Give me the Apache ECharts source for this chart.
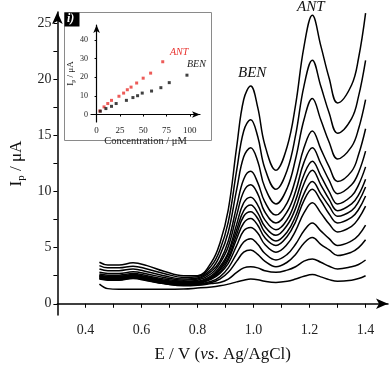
<!DOCTYPE html>
<html>
<head>
<meta charset="utf-8">
<script src="https://cdn.jsdelivr.net/npm/echarts@6/dist/echarts.min.js"></script>
<style>
  html, body { margin: 0; padding: 0; background: #fff; }
  #chart { width: 392px; height: 368px; }
</style>
</head>
<body>
<div id="chart"></div>
<script>
// potential axis (V vs Ag/AgCl), shared by every voltammogram
const potential = [0.45, 0.48, 0.52, 0.57, 0.62, 0.68, 0.75, 0.80, 0.85, 0.88, 0.91, 0.94, 0.965, 0.99,
  1.015, 1.04, 1.08, 1.12, 1.15, 1.18, 1.21, 1.24, 1.27, 1.30, 1.35, 1.375, 1.40];

// current (uA), lowest concentration first
const curve0 = [1.75, 1.35, 1.3, 1.3, 1.3, 1.3, 1.32, 1.4, 1.5, 1.6, 1.75, 1.95, 2.1, 2.2, 2.15, 2.0, 1.9, 2.0, 2.2, 2.45, 2.6, 2.4, 2.15, 2.0, 2.1, 2.25, 2.5];
const curve1 = [2.2, 2.1, 2.1, 2.25, 2.05, 1.8, 1.6, 1.65, 1.8, 1.9, 2.2, 2.8, 3.2, 3.3, 3.2, 2.95, 2.8, 3.0, 3.3, 3.8, 4.0, 3.7, 3.35, 3.1, 3.3, 3.5, 3.9];
const curve2 = [2.25, 2.15, 2.15, 2.3, 2.1, 1.8, 1.65, 1.7, 1.9, 2.2, 2.8, 3.8, 4.6, 4.8, 4.4, 3.8, 3.3, 3.7, 4.4, 5.4, 5.9, 5.3, 4.8, 4.3, 4.6, 5.0, 5.7];
const curve3 = [2.3, 2.2, 2.2, 2.35, 2.15, 1.85, 1.7, 1.75, 2.0, 2.4, 3.2, 4.5, 5.5, 5.8, 5.3, 4.5, 3.9, 4.4, 5.3, 6.5, 7.2, 6.5, 5.8, 5.2, 5.6, 6.1, 7.0];
const curve4 = [2.35, 2.25, 2.25, 2.4, 2.2, 1.9, 1.75, 1.8, 2.2, 2.7, 3.6, 5.2, 6.5, 6.8, 6.3, 5.3, 4.6, 5.3, 6.5, 8.1, 9.0, 8.1, 7.1, 6.4, 6.9, 7.6, 8.7];
const curve5 = [2.4, 2.3, 2.3, 2.45, 2.25, 1.95, 1.8, 1.85, 2.3, 2.8, 3.9, 5.8, 7.2, 7.6, 7.0, 5.9, 5.2, 6.0, 7.3, 9.2, 10.2, 9.2, 8.0, 7.2, 7.7, 8.4, 9.6];
const curve6 = [2.45, 2.35, 2.35, 2.5, 2.3, 2.0, 1.85, 1.9, 2.3, 3.0, 4.1, 6.2, 7.8, 8.2, 7.6, 6.4, 5.6, 6.4, 7.8, 9.8, 10.9, 9.8, 8.7, 7.8, 8.3, 9.1, 10.4];
const curve7 = [2.5, 2.4, 2.4, 2.55, 2.35, 2.05, 1.9, 1.95, 2.4, 3.1, 4.4, 6.6, 8.3, 8.8, 8.1, 6.9, 6.1, 7.0, 8.5, 10.7, 11.9, 10.6, 9.3, 8.3, 8.9, 9.7, 11.1];
const curve8 = [2.55, 2.45, 2.45, 2.6, 2.4, 2.1, 1.95, 2.0, 2.5, 3.3, 4.6, 7.1, 9.0, 9.5, 8.8, 7.5, 6.6, 7.5, 9.2, 11.5, 12.7, 11.4, 10.0, 8.9, 9.6, 10.6, 12.2];
const curve9 = [2.65, 2.55, 2.55, 2.7, 2.5, 2.2, 2.0, 2.1, 2.7, 3.6, 5.1, 7.9, 10.0, 10.6, 9.8, 8.2, 7.2, 8.2, 10.0, 12.6, 13.9, 12.5, 11.0, 9.8, 10.6, 11.7, 13.6];
const curve10 = [2.8, 2.7, 2.7, 2.85, 2.65, 2.35, 2.1, 2.2, 2.9, 3.8, 5.6, 8.7, 11.1, 11.8, 10.8, 9.1, 7.9, 9.0, 11.1, 13.9, 15.4, 13.8, 12.2, 10.9, 11.8, 13.3, 15.6];
const curve11 = [3.1, 2.95, 2.95, 3.1, 2.85, 2.5, 2.2, 2.3, 3.1, 4.3, 6.4, 10.2, 13.1, 13.9, 12.7, 10.4, 8.9, 10.3, 12.9, 16.4, 18.3, 16.4, 14.4, 12.9, 14.0, 15.6, 18.2];
const curve12 = [3.4, 3.2, 3.2, 3.35, 3.1, 2.7, 2.35, 2.4, 3.4, 4.8, 7.3, 11.9, 15.4, 16.4, 14.9, 12.1, 10.2, 11.9, 15.0, 19.4, 21.7, 19.4, 17.0, 15.2, 16.5, 18.5, 21.7];
const curve13 = [3.7, 3.45, 3.45, 3.65, 3.4, 2.9, 2.5, 2.5, 3.7, 5.4, 8.4, 14.0, 18.2, 19.4, 17.5, 14.2, 11.9, 14.0, 17.7, 22.9, 25.7, 23.0, 20.1, 17.9, 19.5, 21.9, 25.9];
const curves = [curve0, curve1, curve2, curve3, curve4, curve5, curve6, curve7,
  curve8, curve9, curve10, curve11, curve12, curve13];

// inset: peak current vs concentration
const antConc = [3.5, 8, 12, 16, 24, 29, 33, 37, 43, 50, 58, 71];
const antCurrent = [1.9, 4.1, 5.9, 7.6, 9.8, 11.5, 13.3, 14.7, 16.9, 19.5, 22.2, 28.3];
const benConc = [4, 10, 16, 21, 32, 39, 44, 49, 59, 69, 78, 97];
const benCurrent = [1.8, 3.2, 4.4, 5.9, 7.6, 9.1, 10.1, 11.5, 12.6, 14.4, 17.1, 21.1];

// tick values
const mainXTicks = [0.4, 0.5, 0.6, 0.7, 0.8, 0.9, 1.0, 1.1, 1.2, 1.3, 1.4];
const mainXLabels = [0.4, 0.6, 0.8, 1.0, 1.2, 1.4];
const mainYTicks = [0, 2.5, 5, 7.5, 10, 12.5, 15, 17.5, 20, 22.5, 25];
const mainYLabels = [0, 5, 10, 15, 20, 25];
const insetXTicks = [0, 25, 50, 75, 100];
const insetYTicks = [0, 10, 20, 30, 40];

const serif = '"Liberation Serif", "DejaVu Serif", serif';

const chart = echarts.init(document.getElementById('chart'));

const mainSeries = curves.map((c, k) => ({
  name: 'c' + k,
  type: 'line',
  xAxisIndex: 0,
  yAxisIndex: 0,
  data: potential.map((e, i) => [e, c[i]]),
  showSymbol: false,
  smooth: 0.4,
  lineStyle: { color: '#000', width: 1.5 },
  z: 3,
  silent: true,
}));

const option = {
  animation: false,
  backgroundColor: '#fff',
  grid: [
    { left: 45, right: 4, top: 12, bottom: 42 },
    { left: 91, right: 192, top: 25, bottom: 246 },
  ],
  xAxis: [
    {
      type: 'value',
      gridIndex: 0,
      min: 0.3,
      max: 1.48,
      splitLine: { show: false },
      axisLine: { show: true, symbol: ['none', 'arrow'], symbolSize: [8, 12], lineStyle: { color: '#000', width: 1.5 } },
      axisTick: { show: true, length: 4, customValues: mainXTicks, lineStyle: { color: '#000' } },
      axisLabel: {
        customValues: mainXLabels,
        formatter: (v) => v.toFixed(1),
        fontFamily: serif, fontSize: 14, color: '#222', margin: 8,
      },
      name: '{a|E / V (}{i|vs}{a|. Ag/AgCl)}',
      nameLocation: 'middle',
      nameGap: 31,
      nameTextStyle: {
        rich: {
          a: { fontFamily: serif, fontSize: 17, color: '#111' },
          i: { fontFamily: serif, fontSize: 17, color: '#111', fontStyle: 'italic' },
        },
      },
    },
    {
      type: 'value',
      gridIndex: 1,
      min: -6,
      max: 111,
      z: 6,
      splitLine: { show: false },
      axisLine: { show: true, symbol: ['none', 'arrow'], symbolSize: [5, 8], lineStyle: { color: '#000', width: 1.2 } },
      axisTick: { show: true, length: 2, customValues: insetXTicks, lineStyle: { color: '#000' } },
      axisLabel: {
        customValues: insetXTicks,
        fontFamily: serif, fontSize: 9, color: '#222', margin: 4,
      },
      name: 'Concentration / μM',
      nameLocation: 'middle',
      nameGap: 11,
      nameTextStyle: { fontFamily: serif, fontSize: 10.5, color: '#222' },
    },
  ],
  yAxis: [
    {
      type: 'value',
      gridIndex: 0,
      min: -1,
      max: 26,
      splitLine: { show: false },
      axisLine: { show: true, symbol: ['none', 'arrow'], symbolSize: [8, 12], lineStyle: { color: '#000', width: 1.5 } },
      axisTick: { show: true, length: 4, customValues: mainYTicks, lineStyle: { color: '#000' } },
      axisLabel: {
        customValues: mainYLabels,
        fontFamily: serif, fontSize: 14, color: '#222', margin: 6,
      },
      name: '{a|I}{s|p}{a| / μA}',
      nameLocation: 'middle',
      nameGap: 25,
      nameRotate: 90,
      nameTextStyle: {
        rich: {
          a: { fontFamily: serif, fontSize: 17, color: '#111' },
          s: { fontFamily: serif, fontSize: 11, color: '#111', padding: [9, 0, 0, 0] },
        },
      },
    },
    {
      type: 'value',
      gridIndex: 1,
      min: -4,
      max: 48,
      z: 6,
      splitLine: { show: false },
      axisLine: { show: true, symbol: ['none', 'arrow'], symbolSize: [5, 8], lineStyle: { color: '#000', width: 1.2 } },
      axisTick: { show: true, length: 2, customValues: insetYTicks, lineStyle: { color: '#000' } },
      axisLabel: {
        customValues: insetYTicks,
        fontFamily: serif, fontSize: 8, color: '#222', margin: 3,
      },
      name: '{a|I}{s|p}{a| / μA}',
      nameLocation: 'middle',
      nameGap: 14,
      nameRotate: 90,
      nameTextStyle: {
        rich: {
          a: { fontFamily: serif, fontSize: 9, color: '#222' },
          s: { fontFamily: serif, fontSize: 6, color: '#222', padding: [4, 0, 0, 0] },
        },
      },
    },
  ],
  graphic: [
    {
      type: 'rect', z: 1,
      shape: { x: 64.5, y: 12.5, width: 147, height: 128 },
      style: { fill: '#fff', stroke: '#8a8a8a', lineWidth: 1 },
    },
    {
      type: 'rect', z: 2,
      shape: { x: 64.5, y: 12.5, width: 15, height: 14 },
      style: { fill: '#000' },
    },
    {
      type: 'text', z: 3, left: 67, top: 13,
      style: { text: 'i)', fill: '#fff', font: 'italic bold 12px ' + serif },
    },
    {
      type: 'text', z: 3, left: 238, top: 66,
      style: { text: 'BEN', fill: '#111', font: 'italic 15px ' + serif },
    },
    {
      type: 'text', z: 3, left: 297, top: 0,
      style: { text: 'ANT', fill: '#111', font: 'italic 15px ' + serif },
    },
    {
      type: 'text', z: 3, left: 170, top: 47,
      style: { text: 'ANT', fill: '#e8322e', font: 'italic 10px ' + serif },
    },
    {
      type: 'text', z: 3, left: 187, top: 59,
      style: { text: 'BEN', fill: '#222', font: 'italic 10px ' + serif },
    },
  ],
  series: [
    ...mainSeries,
    {
      name: 'ANT',
      type: 'scatter',
      xAxisIndex: 1,
      yAxisIndex: 1,
      data: antConc.map((c, i) => [c, antCurrent[i]]),
      symbol: 'rect',
      symbolSize: 3,
      itemStyle: { color: '#e8322e' },
      z: 7,
    },
    {
      name: 'BEN',
      type: 'scatter',
      xAxisIndex: 1,
      yAxisIndex: 1,
      data: benConc.map((c, i) => [c, benCurrent[i]]),
      symbol: 'rect',
      symbolSize: 3,
      itemStyle: { color: '#111' },
      z: 7,
    },
  ],
};

chart.setOption(option);
</script>
</body>
</html>
